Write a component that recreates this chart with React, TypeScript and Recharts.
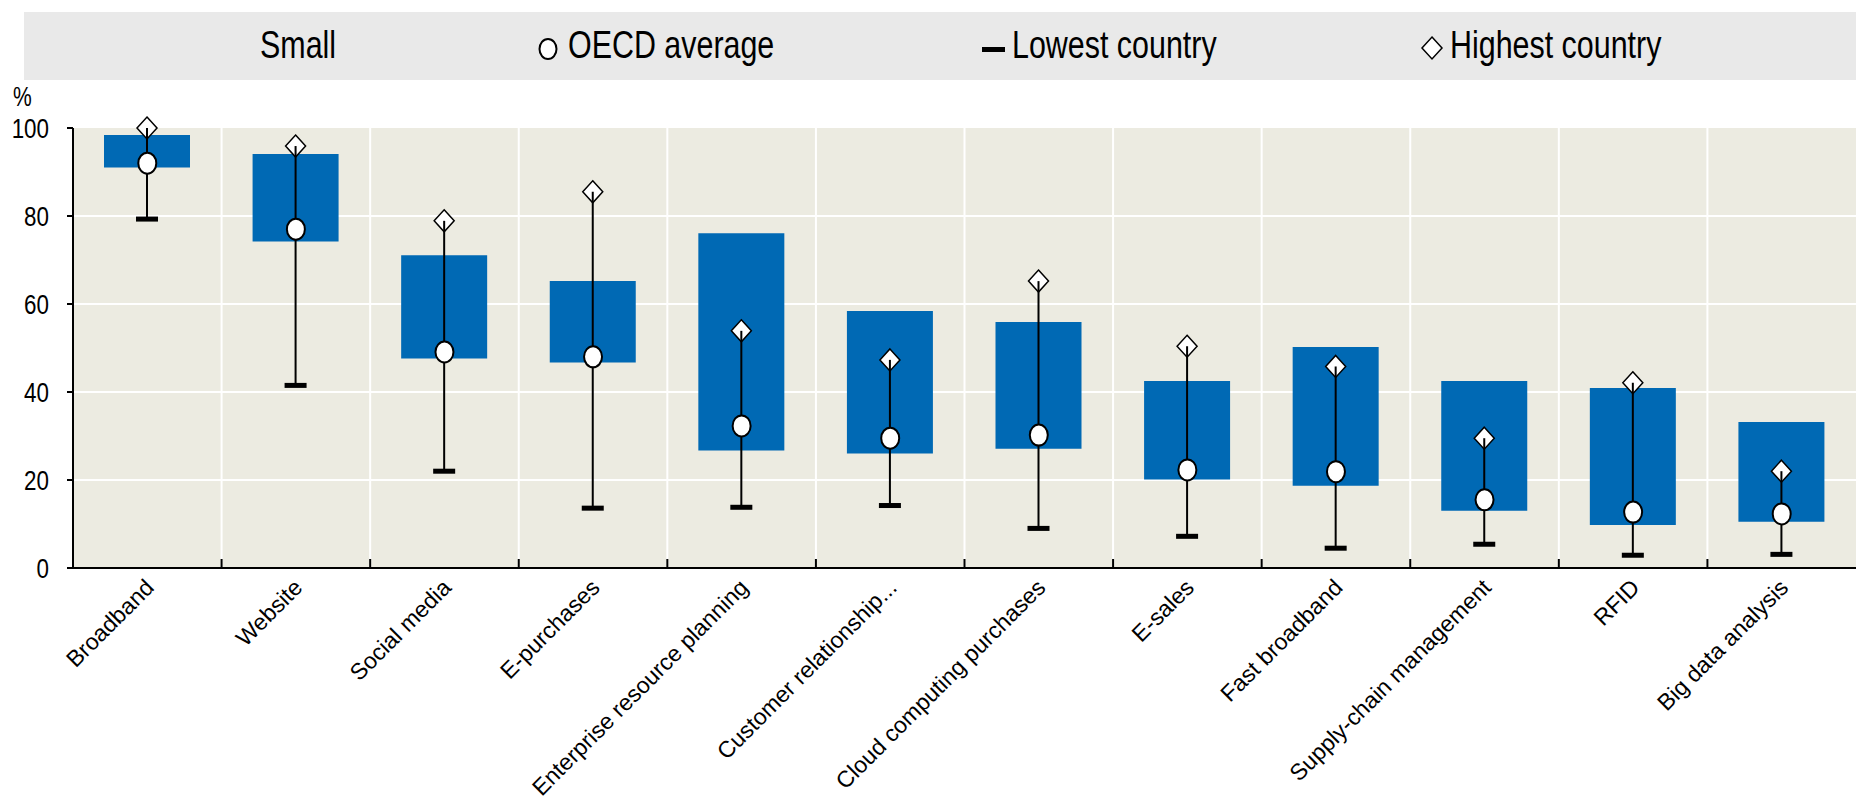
import React from "react";
import {
  ComposedChart,
  Bar,
  Scatter,
  XAxis,
  YAxis,
  CartesianGrid,
} from "recharts";

const categories = [
  "Broadband",
  "Website",
  "Social media",
  "E-purchases",
  "Enterprise resource planning",
  "Customer relationship...",
  "Cloud computing purchases",
  "E-sales",
  "Fast broadband",
  "Supply-chain management",
  "RFID",
  "Big data analysis",
];
const smallLow = [91.0, 74.2, 47.6, 46.7, 26.7, 26.0, 27.1, 20.1, 18.7, 13.0, 9.8, 10.5];
const smallHigh = [98.4, 94.1, 71.1, 65.2, 76.1, 58.4, 55.9, 42.5, 50.2, 42.5, 40.9, 33.2];
const oecdAverage = [92.0, 77.0, 49.1, 48.0, 32.3, 29.5, 30.2, 22.3, 21.9, 15.5, 12.7, 12.3];
const lowestCountry = [79.3, 41.5, 22.0, 13.6, 13.8, 14.2, 9.0, 7.2, 4.5, 5.4, 2.9, 3.1];
const highestCountry = [100, 95.9, 78.9, 85.5, 53.9, 47.3, 65.2, 50.4, 45.8, 29.5, 42.1, 22.0];
const yTicks = [0, 20, 40, 60, 80, 100];

const data = categories.map((name, i) => ({
  name,
  small: [smallLow[i], smallHigh[i]],
  range: [lowestCountry[i], highestCountry[i]],
  avg: oecdAverage[i],
}));

const W = 1856;
const H = 803;
const LEFT = 73;
const PLOT_W = W - LEFT;
const SANS = "'Liberation Sans', Arial, sans-serif";
const BLUE = "#0069b4";

// narrow look: Arial-metric font squeezed horizontally
const narrow = (scale: number): React.CSSProperties => ({
  display: "inline-block",
  transform: `scaleX(${scale})`,
  transformOrigin: "left center",
  whiteSpace: "nowrap",
});

// whisker: line from lowest to highest, dash at lowest, diamond at highest
const Whisker = (props: any) => {
  const { x, y, width, height } = props;
  const cx = x + width / 2;
  const bottom = y + height;
  return (
    <g>
      <polygon
        points={`${cx},${y - 11} ${cx + 10},${y} ${cx},${y + 11} ${cx - 10},${y}`}
        fill="#fff"
        stroke="#000"
        strokeWidth={1.5}
      />
      <line x1={cx} y1={y} x2={cx} y2={bottom} stroke="#000" strokeWidth={2} />
      <rect x={cx - 11} y={bottom - 2.5} width={22} height={5} fill="#000" />
    </g>
  );
};

const AvgDot = (props: any) => {
  const { cx, cy } = props;
  return <ellipse cx={cx} cy={cy} rx={9} ry={10.5} fill="#fff" stroke="#000" strokeWidth={2} />;
};

const XTick = (props: any) => {
  const { x, y, payload, index } = props;
  const bw = PLOT_W / categories.length;
  const bx = x - bw / 2;
  const tx = x + 8;
  const ty = y + 21;
  return (
    <g>
      {index > 0 && <line x1={bx} y1={y} x2={bx} y2={y - 9} stroke="#000" strokeWidth={2} />}
      <text
        x={tx}
        y={ty}
        textAnchor="end"
        fontSize={23}
        fontFamily={SANS}
        fill="#000"
        transform={`rotate(-45, ${tx}, ${ty})`}
      >
        {payload.value}
      </text>
    </g>
  );
};

const YTick = (props: any) => {
  const { x, y, payload } = props;
  return (
    <text
      x={0}
      y={0}
      textAnchor="end"
      dominantBaseline="central"
      fontSize={28}
      fontFamily={SANS}
      fill="#000"
      transform={`translate(${x}, ${y}) scale(0.8, 1)`}
    >
      {payload.value}
    </text>
  );
};

export default function App() {
  return (
    <div style={{ position: "absolute", left: 0, top: 0, width: W, height: H, background: "#fff" }}>
      <div
        style={{
          position: "absolute",
          left: 24,
          top: 12,
          width: W - 24,
          height: 68,
          background: "#e9e9e9",
          fontFamily: SANS,
          fontSize: 39,
          color: "#000",
          overflow: "hidden",
        }}
      >
        <span style={{ position: "absolute", left: 236, top: 11 }}>
          <span style={narrow(0.78)}>Small</span>
        </span>
        <svg style={{ position: "absolute", left: 513, top: 25 }} width={22} height={24}>
          <ellipse cx={11} cy={12} rx={8.5} ry={10} fill="#fff" stroke="#000" strokeWidth={2} />
        </svg>
        <span style={{ position: "absolute", left: 544, top: 11 }}>
          <span style={narrow(0.78)}>OECD average</span>
        </span>
        <svg style={{ position: "absolute", left: 958, top: 25 }} width={24} height={24}>
          <rect x={0} y={10} width={23} height={5} fill="#000" />
        </svg>
        <span style={{ position: "absolute", left: 988, top: 11 }}>
          <span style={narrow(0.78)}>Lowest country</span>
        </span>
        <svg style={{ position: "absolute", left: 1396, top: 23 }} width={24} height={26}>
          <polygon points="12,2 22,13 12,24 2,13" fill="#fff" stroke="#000" strokeWidth={1.5} />
        </svg>
        <span style={{ position: "absolute", left: 1426, top: 11 }}>
          <span style={narrow(0.78)}>Highest country</span>
        </span>
      </div>
      <div style={{ position: "absolute", left: 13, top: 82, fontFamily: SANS, fontSize: 27 }}>
        <span style={narrow(0.78)}>%</span>
      </div>
      <div style={{ position: "absolute", left: 0, top: 0 }}>
        <ComposedChart
          width={W}
          height={H}
          data={data}
          margin={{ top: 128, right: 0, bottom: 0, left: 0 }}
        >
          <CartesianGrid
            fill="#ecebe1"
            stroke="#fff"
            strokeWidth={2}
            horizontalValues={[20, 40, 60, 80]}
            verticalCoordinatesGenerator={({ offset }: any) =>
              categories.slice(1).map((_, i) => offset.left + ((i + 1) * offset.width) / categories.length)
            }
          />
          <XAxis
            xAxisId="main"
            dataKey="name"
            interval={0}
            height={235}
            axisLine={{ stroke: "#000", strokeWidth: 2 }}
            tickLine={false}
            tickSize={0}
            tickMargin={0}
            tick={<XTick />}
          />
          <XAxis xAxisId="w" dataKey="name" hide />
          <YAxis
            domain={[0, 100]}
            ticks={yTicks}
            width={LEFT}
            axisLine={{ stroke: "#000", strokeWidth: 2 }}
            tickLine={{ stroke: "#000", strokeWidth: 2 }}
            tickSize={6}
            tickMargin={18}
            tick={<YTick />}
          />
          <Bar xAxisId="main" dataKey="small" fill={BLUE} barSize={86} isAnimationActive={false} />
          <Bar xAxisId="w" dataKey="range" barSize={22} shape={<Whisker />} isAnimationActive={false} />
          <Scatter xAxisId="main" dataKey="avg" shape={<AvgDot />} isAnimationActive={false} />
        </ComposedChart>
      </div>
    </div>
  );
}
